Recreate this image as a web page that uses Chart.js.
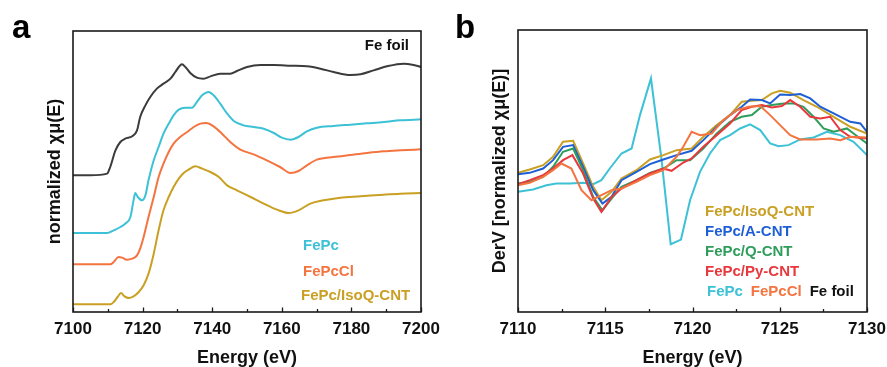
<!DOCTYPE html>
<html>
<head>
<meta charset="utf-8">
<script src="https://cdn.jsdelivr.net/npm/chart.js@4.4.1/dist/chart.umd.min.js"></script>
<style>
  body { margin: 0; background: #fff; }
  #wrap { position: relative; width: 887px; height: 367px; }
  canvas { position: absolute; top: 0; }
</style>
</head>
<body>
<div id="wrap">
  <canvas id="xanes" width="443" height="367" style="left:0"></canvas>
  <canvas id="deriv" width="444" height="367" style="left:443px"></canvas>
</div>
<script>
const FONT = "'Liberation Sans', Arial, Helvetica, sans-serif";

// (a) Fe K-edge XANES, curves stacked with offsets
const foilE  = [7100, 7105, 7109.8, 7110.7, 7112.2, 7113.6, 7115, 7117, 7118.4, 7119.3, 7120.8, 7122.2, 7124.1, 7126, 7128, 7129.4, 7130.4, 7131.3, 7132.3, 7133.7, 7135.6, 7137.5, 7139.5, 7142.3, 7145.2, 7147.1, 7150, 7153.8, 7157.7, 7162.5, 7167.2, 7171.1, 7174.9, 7179.7, 7182.6, 7186.4, 7190.2, 7195, 7197.9, 7200];
const foilMu = [4.10, 4.10, 4.15, 4.35, 4.85, 5.10, 5.20, 5.27, 5.45, 5.85, 6.20, 6.45, 6.70, 6.85, 7.00, 7.20, 7.35, 7.43, 7.35, 7.17, 7.03, 7.00, 7.07, 7.15, 7.15, 7.23, 7.35, 7.41, 7.41, 7.39, 7.37, 7.30, 7.20, 7.11, 7.13, 7.25, 7.37, 7.45, 7.41, 7.35];

const fepcE  = [7100, 7109.8, 7110.7, 7112.2, 7113.6, 7115, 7116.5, 7117.4, 7117.9, 7118.6, 7119.8, 7120.8, 7121.7, 7123.2, 7124.6, 7126, 7127.5, 7128.9, 7130.4, 7132.3, 7134.2, 7135.6, 7137.1, 7139, 7140.4, 7142.3, 7144.3, 7146.2, 7149, 7151.9, 7154.8, 7157.7, 7160, 7162.5, 7164.8, 7167.2, 7170.1, 7174.9, 7179.7, 7184.5, 7189.3, 7194.1, 7200];
const fepcMu = [2.37, 2.37, 2.40, 2.47, 2.55, 2.65, 2.85, 3.35, 3.57, 3.45, 3.35, 3.50, 3.95, 4.55, 4.95, 5.35, 5.65, 5.90, 6.07, 6.13, 6.13, 6.30, 6.50, 6.60, 6.50, 6.25, 5.95, 5.73, 5.60, 5.55, 5.50, 5.37, 5.23, 5.17, 5.25, 5.42, 5.53, 5.58, 5.62, 5.66, 5.70, 5.75, 5.78];

const fepcclE  = [7100, 7110.7, 7111.7, 7113.1, 7114.1, 7115.5, 7117, 7118.4, 7119.3, 7120.3, 7121.7, 7123.2, 7124.6, 7126, 7127.5, 7128.9, 7130.8, 7132.8, 7134.7, 7136.6, 7138.3, 7140.4, 7142.8, 7145.2, 7148.1, 7151.9, 7155.7, 7159.5, 7162.5, 7164.8, 7167.2, 7170.1, 7174.9, 7179.7, 7184.5, 7189.3, 7194.1, 7200];
const fepcclMu = [1.43, 1.43, 1.50, 1.65, 1.63, 1.57, 1.60, 1.70, 1.90, 2.25, 2.85, 3.45, 4.05, 4.45, 4.80, 5.05, 5.25, 5.40, 5.55, 5.65, 5.67, 5.57, 5.35, 5.10, 4.87, 4.73, 4.55, 4.35, 4.17, 4.23, 4.40, 4.57, 4.65, 4.71, 4.77, 4.82, 4.85, 4.88];

const isoqE  = [7100, 7110.7, 7111.7, 7112.8, 7113.8, 7114.8, 7116, 7117.4, 7118.9, 7120.3, 7121.7, 7123.2, 7124.6, 7126, 7127.5, 7128.9, 7130.4, 7131.8, 7133.2, 7135.2, 7137.1, 7139.5, 7141.9, 7144.3, 7147.1, 7151, 7154.8, 7158.6, 7162, 7164.8, 7168.2, 7172, 7176.8, 7182.6, 7189.3, 7194.1, 7200];
const isoqMu = [0.23, 0.23, 0.30, 0.45, 0.57, 0.47, 0.42, 0.47, 0.60, 0.80, 1.15, 1.75, 2.45, 3.05, 3.45, 3.75, 4.00, 4.17, 4.27, 4.37, 4.30, 4.20, 4.05, 3.80, 3.65, 3.45, 3.25, 3.07, 2.97, 3.05, 3.25, 3.35, 3.43, 3.47, 3.52, 3.55, 3.57];

// (b) first derivative of the normalized spectra
const dFepcE = [7110, 7110.86, 7111.63, 7112.2, 7112.97, 7113.73, 7114.31, 7114.78, 7115.26, 7115.93, 7116.51, 7116.99, 7117.62, 7118.23, 7118.75, 7119.34, 7119.86, 7120.43, 7121, 7121.58, 7122.15, 7122.73, 7123.3, 7123.88, 7124.45, 7124.93, 7125.5, 7126.17, 7126.94, 7127.7, 7128.47, 7129.23, 7130];
const dFepc  = [3.60, 3.67, 3.80, 3.85, 3.85, 3.87, 3.83, 3.95, 4.30, 4.75, 4.90, 5.90, 7.00, 4.55, 2.03, 2.17, 3.35, 4.20, 4.75, 5.15, 5.30, 5.50, 5.62, 5.45, 5.05, 4.97, 5.00, 5.17, 5.23, 5.40, 5.30, 5.10, 4.70];

const dIsoqE = [7110, 7110.67, 7111.44, 7112.01, 7112.58, 7113.16, 7113.73, 7114.31, 7114.78, 7115.36, 7115.93, 7116.79, 7117.56, 7118.33, 7119.09, 7119.95, 7120.62, 7121.39, 7122.15, 7122.82, 7123.4, 7123.97, 7124.55, 7125.02, 7125.6, 7126.36, 7127.13, 7128.09, 7129.04, 7130];
const dIsoq  = [4.17, 4.27, 4.40, 4.65, 5.10, 5.13, 4.45, 3.75, 3.35, 3.60, 4.00, 4.25, 4.57, 4.70, 4.85, 4.90, 5.25, 5.60, 5.90, 6.30, 6.33, 6.35, 6.55, 6.63, 6.57, 6.35, 6.15, 5.85, 5.55, 5.35];

const dAcntE = [7110, 7110.67, 7111.44, 7112.01, 7112.58, 7113.16, 7113.73, 7114.31, 7114.84, 7115.36, 7115.93, 7116.79, 7117.56, 7118.33, 7119.09, 7119.95, 7120.62, 7121.39, 7122.15, 7122.82, 7123.3, 7123.97, 7124.45, 7125.02, 7125.6, 7126.17, 7126.75, 7127.32, 7128.09, 7129.04, 7129.62, 7130];
const dAcnt  = [4.13, 4.17, 4.30, 4.55, 4.95, 5.00, 4.35, 3.65, 3.25, 3.45, 3.95, 4.20, 4.43, 4.57, 4.70, 4.83, 5.15, 5.55, 5.90, 6.15, 6.37, 6.35, 6.25, 6.52, 6.50, 6.53, 6.40, 6.15, 5.95, 5.70, 5.65, 5.40];

const dQcntE = [7110, 7110.67, 7111.44, 7112.01, 7112.58, 7113.16, 7113.73, 7114.31, 7114.84, 7115.36, 7115.93, 7116.79, 7117.56, 7118.33, 7119.09, 7119.86, 7120.62, 7121.39, 7122.15, 7122.82, 7123.4, 7123.97, 7124.55, 7125.22, 7125.79, 7126.36, 7126.94, 7127.51, 7128.09, 7128.85, 7129.23, 7130];
const dQcnt  = [3.85, 3.90, 4.05, 4.35, 4.80, 4.90, 4.25, 3.45, 3.05, 3.40, 3.75, 3.95, 4.17, 4.30, 4.55, 4.55, 4.90, 5.35, 5.70, 5.85, 5.90, 6.15, 6.20, 6.25, 6.25, 6.15, 5.85, 5.50, 5.40, 5.50, 5.35, 5.05];

const dPycntE = [7110, 7110.67, 7111.44, 7112.01, 7112.58, 7113.12, 7113.73, 7114.31, 7114.78, 7115.36, 7115.93, 7116.79, 7117.56, 7118.33, 7118.8, 7119.47, 7119.95, 7120.62, 7121.39, 7122.15, 7122.82, 7123.4, 7123.97, 7124.55, 7125.12, 7125.6, 7126.17, 7126.75, 7127.32, 7127.89, 7128.47, 7129.04, 7130];
const dPycnt  = [3.83, 3.95, 4.10, 4.30, 4.55, 4.70, 4.15, 3.40, 3.00, 3.45, 3.70, 3.95, 4.15, 4.30, 4.23, 4.48, 4.60, 4.95, 5.30, 5.65, 6.05, 6.15, 6.20, 6.13, 6.17, 6.35, 6.15, 5.85, 5.80, 5.85, 5.45, 5.25, 5.20];

const dFepcclE = [7110, 7110.67, 7111.44, 7112.01, 7112.49, 7113.06, 7113.64, 7114.21, 7114.78, 7115.36, 7115.93, 7116.79, 7117.56, 7118.33, 7119.09, 7119.47, 7119.95, 7120.43, 7121.1, 7121.77, 7122.54, 7123.21, 7123.88, 7124.45, 7125.02, 7125.6, 7126.17, 7127.13, 7127.89, 7128.47, 7129.04, 7130];
const dFepccl  = [3.80, 3.87, 4.05, 4.25, 4.45, 4.30, 3.65, 3.35, 3.50, 3.65, 3.70, 3.90, 4.10, 4.25, 4.65, 4.95, 5.40, 5.30, 5.35, 5.75, 6.05, 6.15, 6.17, 5.90, 5.60, 5.30, 5.17, 5.17, 5.20, 5.15, 5.25, 5.23];

const C = {
  foil: '#3b3b3b', fepc: '#3cc1d6', fepccl: '#f47440', isoq: '#c9a023',
  acnt: '#1f5fd6', qcnt: '#2f9d5b', pycnt: '#e8383e'
};

const pts = (xs, ys) => xs.map((x, i) => ({ x, y: ys[i] }));
const line = (data, color, smooth) => ({
  data, borderColor: color, borderWidth: 2, pointRadius: 0, fill: false,
  tension: smooth ? 0.4 : 0, cubicInterpolationMode: smooth ? 'monotone' : 'default'
});

// box frame, inward ticks on the energy axis, captions and panel letter
const decor = {
  id: 'decor',
  afterDatasetsDraw(chart, args, opts) {
    const { ctx, chartArea: a, scales: { x } } = chart;
    ctx.save();
    ctx.strokeStyle = '#1a1a1a';
    ctx.lineWidth = 1.3;
    const half = opts.step / 2;
    for (let i = 0; x.min + i * half <= x.max + 1e-9; i++) {
      const px = Math.round(x.getPixelForValue(x.min + i * half)) + 0.5;
      ctx.beginPath();
      ctx.moveTo(px, a.bottom);
      ctx.lineTo(px, a.bottom - (i % 2 === 0 ? 4.5 : 3));
      ctx.stroke();
    }
    ctx.lineWidth = 1.6;
    ctx.strokeRect(a.left, a.top, a.right - a.left, a.bottom - a.top);

    ctx.font = 'bold 15px ' + FONT;
    ctx.textBaseline = 'alphabetic';
    opts.notes.forEach(n => {
      const w = n.parts.reduce((s, p) => s + ctx.measureText(p[0]).width, 0) + n.gap * (n.parts.length - 1);
      let cx = n.right ? a.right - n.dx - w : a.left + n.dx;
      n.parts.forEach(p => {
        ctx.fillStyle = p[1];
        ctx.fillText(p[0], cx, a.top + n.dy);
        cx += ctx.measureText(p[0]).width + n.gap;
      });
    });

    ctx.font = 'bold 33px ' + FONT;
    ctx.fillStyle = '#000';
    ctx.fillText(opts.letter, 12, 38);
    ctx.restore();
  }
};

function makeChart(id, datasets, xr, yMax, yTitle, yTitlePad, yWidth, padRight, padTop, decorOpts) {
  return new Chart(document.getElementById(id), {
    type: 'line',
    data: { datasets },
    plugins: [decor],
    options: {
      responsive: false,
      devicePixelRatio: 1,
      animation: false,
      layout: { padding: { top: padTop, right: padRight, left: 0, bottom: 0 } },
      plugins: { legend: { display: false }, tooltip: { enabled: false }, decor: decorOpts },
      scales: {
        x: {
          type: 'linear', min: xr[0], max: xr[1],
          grid: { display: false }, border: { display: false },
          ticks: { stepSize: xr[2], padding: -1, color: '#111', callback: v => String(v),
                   font: { family: FONT, size: 17, weight: 'bold' } },
          title: { display: true, text: 'Energy (eV)', color: '#111', padding: { top: 0, bottom: -2 },
                   font: { family: FONT, size: 18, weight: 'bold' } },
          afterFit: s => { s.height = 55; }
        },
        y: {
          min: 0, max: yMax,
          grid: { display: false }, border: { display: false },
          ticks: { display: false },
          title: { display: true, text: yTitle, color: '#111', padding: { top: yTitlePad, bottom: 0 },
                   font: { family: FONT, size: 18, weight: 'bold' } },
          afterFit: s => { s.width = yWidth; }
        }
      }
    }
  });
}

makeChart('xanes', [
  line(pts(foilE, foilMu), C.foil, true),
  line(pts(fepcE, fepcMu), C.fepc, true),
  line(pts(fepcclE, fepcclMu), C.fepccl, true),
  line(pts(isoqE, isoqMu), C.isoq, true)
], [7100, 7200, 20], 8.43, 'normalized χμ(E)', 44, 73, 22, 31, {
  letter: 'a', step: 20,
  notes: [
    { right: true, dx: 12, dy: 19, gap: 0, parts: [['Fe foil', '#111']] },
    { dx: 230, dy: 219, gap: 0, parts: [['FePc', C.fepc]] },
    { dx: 230, dy: 245, gap: 0, parts: [['FePcCl', C.fepccl]] },
    { dx: 228, dy: 269, gap: 0, parts: [['FePc/IsoQ-CNT', C.isoq]] }
  ]
});

makeChart('deriv', [
  line(pts(dFepcclE, dFepccl), C.fepccl, false),
  line(pts(dPycntE, dPycnt), C.pycnt, false),
  line(pts(dQcntE, dQcnt), C.qcnt, false),
  line(pts(dAcntE, dAcnt), C.acnt, false),
  line(pts(dIsoqE, dIsoq), C.isoq, false),
  line(pts(dFepcE, dFepc), C.fepc, false)
], [7110, 7130, 5], 8.45, 'DerV [normalized χμ(E)]', 46, 75, 20, 30, {
  letter: 'b', step: 5,
  notes: [
    { dx: 187, dy: 186, gap: 0, parts: [['FePc/IsoQ-CNT', C.isoq]] },
    { dx: 187, dy: 206, gap: 0, parts: [['FePc/A-CNT', C.acnt]] },
    { dx: 187, dy: 226, gap: 0, parts: [['FePc/Q-CNT', C.qcnt]] },
    { dx: 187, dy: 246, gap: 0, parts: [['FePc/Py-CNT', C.pycnt]] },
    { dx: 189, dy: 266, gap: 8, parts: [['FePc', C.fepc], ['FePcCl', C.fepccl], ['Fe foil', '#111']] }
  ]
});
</script>
</body>
</html>
